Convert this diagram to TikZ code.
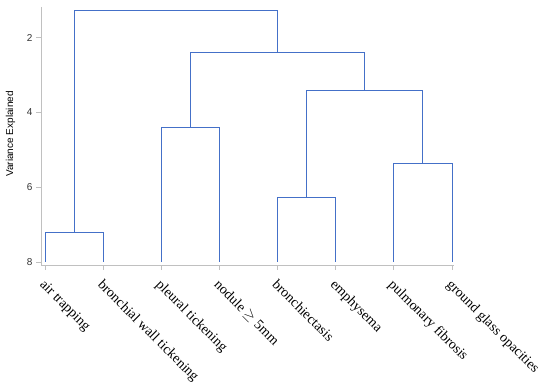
\documentclass[tikz,border=0pt]{standalone}
\usepackage{fontspec}
\setmainfont{Liberation Serif}
\setsansfont{Liberation Sans}
\usepackage{tikz}
\usetikzlibrary{calc}
\definecolor{dendro}{RGB}{68,112,200}
\definecolor{axisgray}{RGB}{192,192,192}

\begin{document}
\begin{tikzpicture}[
  x=1pt, y=-1pt,
  link/.style={draw=dendro, line width=1pt},
  axisline/.style={draw=axisgray, line width=1pt},
  leaflabel/.style={rotate=-45, anchor=north west, inner sep=1pt, font=\fontsize{14}{16}\selectfont},
  ticklabel/.style={anchor=east, inner sep=1pt, xshift=-2pt, font=\sffamily\fontsize{10}{12}\selectfont, black!80},
]
\useasboundingbox (0,0) rectangle (550,385);
% axes
\coordinate (top) at (41,7);
\coordinate (origin) at (41,266);
\coordinate (xend) at (454,266);
\draw[axisline] (top) -- (origin) -- (xend);
\foreach \v in {2,4,6,8}{
  \coordinate (y\v) at (41,{37.7+37.4*(\v-2)});
  \draw[axisline] (y\v) -- ++(-5,0) node[ticklabel] (n\v) {\v};
}
\node[rotate=90, font=\sffamily\fontsize{10}{12}\selectfont] (ylab) at (10.5,134) {Variance Explained};
% leaves
\foreach \i/\t in {1/air trapping, 2/bronchial wall tickening, 3/pleural tickening, 4/nodule $\geq$ 5mm,
                   5/bronchiectasis, 6/emphysema, 7/pulmonary fibrosis, 8/ground glass opacities}{
  \coordinate (l\i) at ({45+58.15*(\i-1)},262);
  \coordinate (k\i) at ({45+58.15*(\i-1)},266);
  \draw[axisline] (k\i) -- ++(0,4);
  \node[leaflabel] (t\i) at ({46+58.15*(\i-1)},277) {\t};
}
% merges
\coordinate (m1) at (74.08,232.3);
\coordinate (m2) at (190.38,127.7);
\coordinate (m3) at (306.68,197.7);
\coordinate (m4) at (422.98,163.3);
\coordinate (m5) at (364.83,90.3);
\coordinate (m6) at (277.6,52.3);
\coordinate (m7) at (175.84,10.7);
\draw[link] (l1) |- (m1) -| (l2);
\draw[link] (l3) |- (m2) -| (l4);
\draw[link] (l5) |- (m3) -| (l6);
\draw[link] (l7) |- (m4) -| (l8);
\draw[link] (m3) |- (m5) -| (m4);
\draw[link] (m2) |- (m6) -| (m5);
\draw[link] (m1) |- (m7) -| (m6);
\end{tikzpicture}
\end{document}
